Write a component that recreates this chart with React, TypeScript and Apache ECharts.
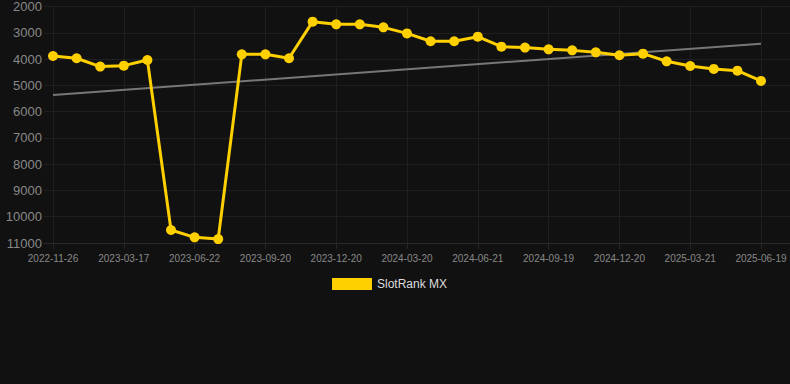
import React, { useEffect, useRef } from "react";
import * as echarts from "echarts";

const categories = [
  "2022-11-26", "2022-12-26", "2023-02-10", "2023-03-17", "2023-04-18", "2023-05-20",
  "2023-06-22", "2023-07-22", "2023-08-21", "2023-09-20", "2023-10-20", "2023-11-19",
  "2023-12-20", "2024-01-19", "2024-02-19", "2024-03-20", "2024-04-20", "2024-05-21",
  "2024-06-21", "2024-07-21", "2024-08-20", "2024-09-19", "2024-10-20", "2024-11-19",
  "2024-12-20", "2025-01-19", "2025-02-19", "2025-03-21", "2025-04-20", "2025-05-20",
  "2025-06-19",
];

const rankValues = [
  3900, 3985, 4300, 4265, 4050, 10505, 10785, 10850, 3835, 3835, 3985, 2595,
  2695, 2695, 2810, 3040, 3340, 3340, 3165, 3545, 3580, 3645, 3685, 3760,
  3870, 3810, 4100, 4280, 4390, 4455, 4845,
];

const trendStart = 5380;
const trendEnd = 3430;

const yMin = 2000;
const yMax = 11000;
const yInterval = 1000;

export default function App() {
  const ref = useRef<HTMLDivElement>(null);
  useEffect(() => {
    document.body.style.margin = "0";
    if (!ref.current) return;
    const chart = echarts.init(ref.current, undefined, { renderer: "svg" });
    const trendData = categories.map((_, i) =>
      i === 0 ? trendStart : i === categories.length - 1 ? trendEnd : null
    );
    const font = "Liberation Sans, Arial, sans-serif";
    chart.setOption({
      animation: false,
      backgroundColor: "#111111",
      grid: [
        { left: 44, right: 0, top: 6, bottom: 141, containLabel: false },
        { left: 53, right: 29, top: 6, bottom: 141, containLabel: false },
      ],
      legend: {
        data: ["SlotRank MX"],
        top: 273,
        left: 327,
        itemWidth: 40,
        itemHeight: 12,
        itemGap: 6,
        icon: "rect",
        textStyle: { color: "#dddddd", fontSize: 12, fontFamily: font },
      },
      xAxis: [
        {
          type: "category",
          gridIndex: 0,
          data: categories,
          boundaryGap: false,
          axisLabel: { show: false },
          axisTick: { show: false },
          splitLine: { show: false },
          axisLine: { show: true, lineStyle: { color: "#2a2a2a", width: 1 } },
        },
        {
          type: "category",
          gridIndex: 1,
          data: categories,
          boundaryGap: false,
          axisLine: { show: false },
          axisTick: {
            show: true,
            interval: 2,
            length: 6,
            lineStyle: { color: "#262626" },
          },
          axisLabel: {
            interval: 2,
            color: "#888888",
            fontSize: 10,
            margin: 10,
            fontFamily: font,
          },
          splitLine: {
            show: true,
            interval: 2,
            lineStyle: { color: "#1f1f1f", width: 1 },
          },
        },
      ],
      yAxis: [
        {
          type: "value",
          gridIndex: 0,
          inverse: true,
          min: yMin,
          max: yMax,
          interval: yInterval,
          axisLine: { show: false },
          axisTick: { show: false },
          axisLabel: {
            color: "#888888",
            fontSize: 13,
            margin: 2,
            fontFamily: font,
            formatter: (v: number) => String(v),
          },
          splitLine: { show: true, lineStyle: { color: "#1f1f1f", width: 1 } },
        },
        {
          type: "value",
          gridIndex: 1,
          inverse: true,
          min: yMin,
          max: yMax,
          interval: yInterval,
          axisLine: { show: false },
          axisTick: { show: false },
          axisLabel: { show: false },
          splitLine: { show: false },
        },
      ],
      series: [
        {
          name: "Trend",
          type: "line",
          xAxisIndex: 1,
          yAxisIndex: 1,
          data: trendData,
          connectNulls: true,
          showSymbol: false,
          symbol: "none",
          lineStyle: { color: "#777777", width: 2 },
          itemStyle: { color: "#777777" },
          z: 2,
        },
        {
          name: "SlotRank MX",
          type: "line",
          xAxisIndex: 1,
          yAxisIndex: 1,
          data: rankValues,
          symbol: "circle",
          symbolSize: 10,
          lineStyle: { color: "#FFD000", width: 3 },
          itemStyle: { color: "#FFD000" },
          z: 3,
        },
      ],
    });
    return () => chart.dispose();
  }, []);
  return <div ref={ref} style={{ width: 790, height: 384 }} />;
}
